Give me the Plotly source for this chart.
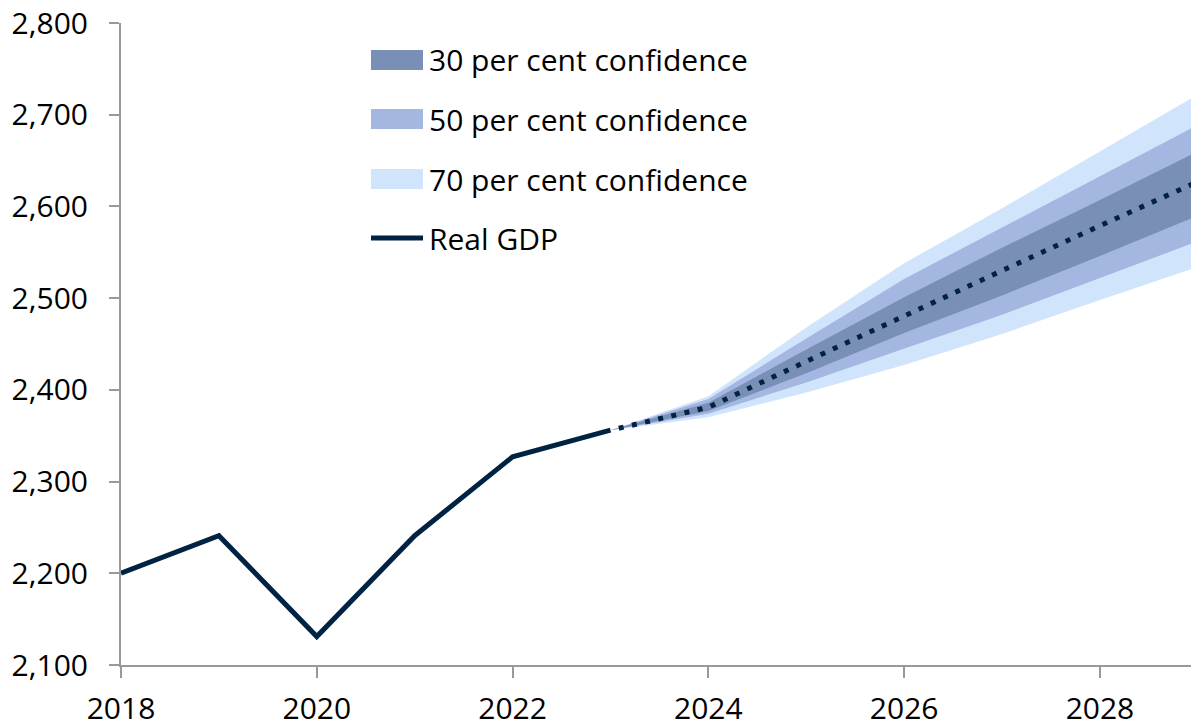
import plotly.graph_objects as go

# ---- data ----
years_hist = [2018, 2019, 2020, 2021, 2022, 2023]
gdp_hist = [2200, 2241, 2131, 2241, 2327, 2356]

years_fc = [2023, 2024, 2025, 2026, 2027, 2028, 2029]
gdp_fc = [2356, 2381, 2431, 2481, 2530, 2579, 2627]

upper_70 = [2356, 2393, 2468, 2538, 2598, 2660, 2722]
lower_70 = [2356, 2370, 2397, 2427, 2461, 2498, 2534]
upper_50 = [2356, 2390, 2456, 2521, 2577, 2633, 2689]
lower_50 = [2356, 2374, 2408, 2445, 2482, 2522, 2562]
upper_30 = [2356, 2386, 2444, 2501, 2555, 2607, 2660]
lower_30 = [2356, 2377, 2418, 2462, 2503, 2546, 2590]

x_ticks = [2018, 2020, 2022, 2024, 2026, 2028]
y_ticks = [2100, 2200, 2300, 2400, 2500, 2600, 2700, 2800]

legend_labels = ["30 per cent confidence", "50 per cent confidence",
                 "70 per cent confidence", "Real GDP"]

# ---- styles ----
C30 = "#7a8fb5"
C50 = "#a4b7e0"
C70 = "#d0e4fc"
CLINE = "#002344"
FONT = "Open Sans"
FS = 30

fig = go.Figure()

for up, lo, col in [(upper_70, lower_70, C70), (upper_50, lower_50, C50), (upper_30, lower_30, C30)]:
    fig.add_trace(go.Scatter(x=years_fc, y=up, mode="lines", line=dict(width=0, color=col),
                             showlegend=False, hoverinfo="skip"))
    fig.add_trace(go.Scatter(x=years_fc, y=lo, mode="lines", line=dict(width=0, color=col),
                             fill="tonexty", fillcolor=col, showlegend=False, hoverinfo="skip"))

fig.add_trace(go.Scatter(x=years_fc, y=gdp_fc, mode="lines",
                         line=dict(color=CLINE, width=5, dash="0px,8.5px,5px,0px"),
                         showlegend=False))
fig.add_trace(go.Scatter(x=years_hist, y=gdp_hist, mode="lines",
                         line=dict(color=CLINE, width=5), showlegend=False))

# ---- manual legend (pixel -> paper) ----
L, R, T, B = 121, 1191, 23, 665
W, H = R - L, B - T
def px(x):
    return (x - L) / W
def py(y):
    return (B - y) / H

swatches = [(50, 70, C30), (109, 129, C50), (169, 189, C70)]
shapes = []
for y0, y1, col in swatches:
    shapes.append(dict(type="rect", xref="paper", yref="paper",
                       x0=px(371), x1=px(423), y0=py(y1), y1=py(y0),
                       fillcolor=col, line=dict(width=0)))
shapes.append(dict(type="line", xref="paper", yref="paper",
                   x0=px(371), x1=px(423), y0=py(238), y1=py(238),
                   line=dict(color=CLINE, width=5)))

annotations = []
for lab, yc in zip(legend_labels, [60, 119, 179, 238]):
    annotations.append(dict(text=lab, xref="paper", yref="paper", x=px(427), y=py(yc),
                            xanchor="left", yanchor="middle", showarrow=False,
                            font=dict(family=FONT, size=FS, color="#000000")))

fig.update_layout(
    width=1191, height=727,
    margin=dict(l=L, r=1191 - R, t=T, b=727 - B),
    paper_bgcolor="white", plot_bgcolor="white",
    font=dict(family=FONT, size=FS, color="#000000"),
    showlegend=False,
    shapes=shapes, annotations=annotations,
    xaxis=dict(range=[2018, 2028.93], tickvals=x_ticks, ticktext=[str(t) for t in x_ticks],
               automargin=False,
               showgrid=False, zeroline=False, showline=True, linecolor="#999999", linewidth=2,
               ticks="outside", ticklen=11, tickwidth=2, tickcolor="#999999",
               ticklabelstandoff=5, tickfont=dict(family=FONT, size=FS)),
    yaxis=dict(range=[2100, 2800], tickvals=y_ticks, ticktext=[f"{t:,}" for t in y_ticks],
               automargin=False,
               showgrid=False, zeroline=False, showline=True, linecolor="#999999", linewidth=2,
               ticks="outside", ticklen=10, tickwidth=2, tickcolor="#999999",
               ticklabelstandoff=15, tickfont=dict(family=FONT, size=FS)),
)

fig.write_html("out.html", config={"displayModeBar": False},
               post_script="document.body.style.margin='0';document.body.style.overflow='hidden';")
